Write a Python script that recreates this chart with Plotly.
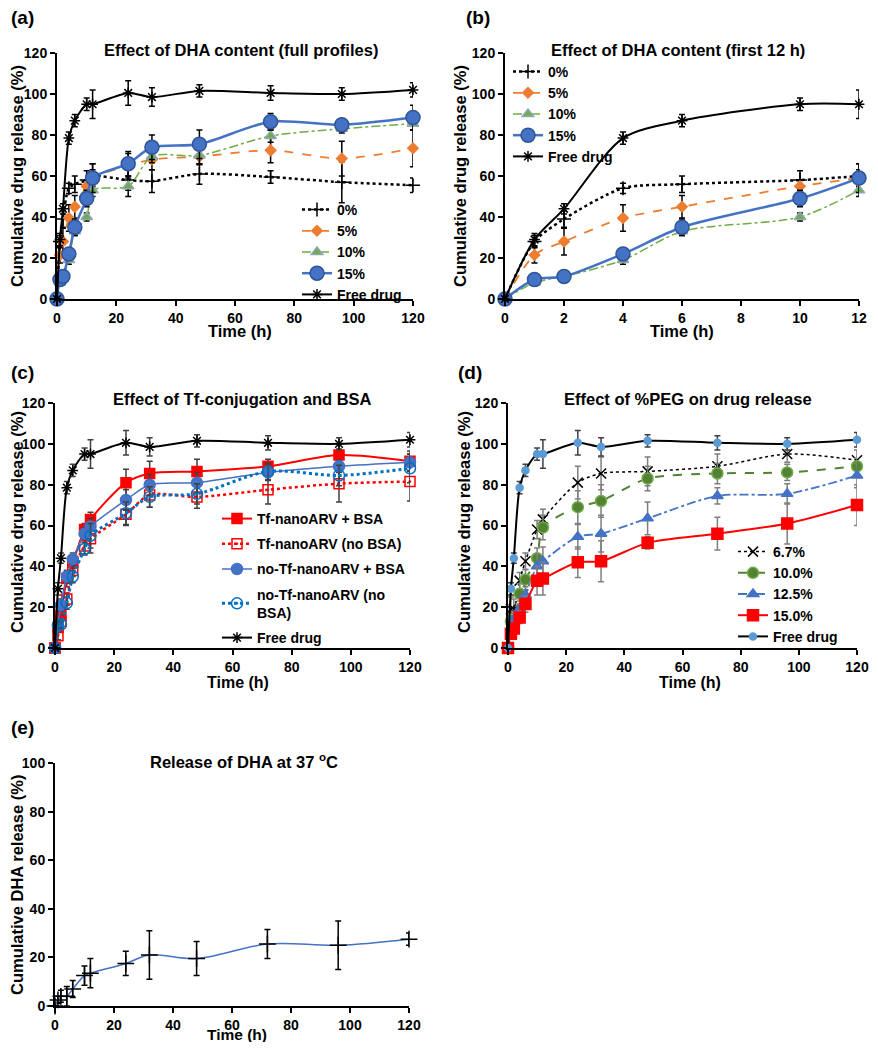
import plotly.graph_objects as go

# sampling times (h)
t = [0, 1, 2, 4, 6, 10, 12, 24, 32, 48, 72, 96, 120]
t12 = t[:7]

# (a)/(b) effect of DHA content
free = [0, 29, 44, 78.5, 87, 95, 95, 100.5, 98.5, 101.5, 100.5, 100, 102]
free_err = [0, 3, 2.5, 3, 3, 3, 7, 6, 4.5, 3, 3.5, 3, 3.5]
dha0 = [0, 28, 39, 54, 56, 58, 60, 58, 57.5, 61, 59.5, 57, 55.5]
dha0_err = [0, 3, 4, 2.5, 4, 4.5, 6, 5, 5.5, 5, 3, 10, 3.5]
dha5 = [0, 21.5, 28, 39.5, 45, 55, 59, 65, 68, 69.5, 72.5, 68.5, 73.5]
dha5_err = [0, 4, 6.5, 6.5, 5.5, 3, 4, 6, 5, 4, 6, 8.5, 9]
dha10 = [0, 8, 11, 19, 33, 40, 53, 55, 69.5, 70, 79.5, 83, 85.5]
dha10_err = [0, 1.5, 1.5, 2, 2, 2, 3, 5, 3, 4, 3, 2, 3]
dha15 = [0, 9.5, 11, 22, 35, 49, 59, 66, 74, 75.5, 86.5, 85, 88.5]
dha15_err = [0, 1.5, 1.5, 2, 4, 4, 7, 6, 6, 7, 4, 2, 6]

# (c) Tf-conjugation and BSA
tf_bsa = [0, 10, 16, 34, 42, 58, 63, 81, 85.5, 86.5, 89, 94.5, 91.5]
tf_bsa_err = [0, 2, 3, 4, 3, 3, 3.5, 6.5, 6, 6, 3.5, 3, 5]
tf_nobsa = [0, 6, 13, 24, 38, 50, 53.5, 65.5, 75, 74, 77.5, 80.5, 81.5]
tf_nobsa_err = [0, 2, 3, 3, 3, 4, 7, 5.5, 6, 5.5, 7, 9, 9.5]
notf_bsa = [0, 11, 21, 35, 43.5, 56, 59.5, 72.5, 80, 81, 86, 89, 91]
notf_bsa_err = [0, 2, 3, 3, 3, 3, 4, 5, 5, 5, 4, 3, 4]
notf_nobsa = [0, 11, 11.5, 22, 35, 48.5, 55, 66, 74, 75.5, 86.5, 84.5, 88]
notf_nobsa_err = [0, 2, 2, 3, 3, 3, 6, 5.5, 5, 5, 4, 5, 7]

# (d) %PEG
peg67 = [0, 19, 19, 33, 42.5, 58, 63, 81, 85.5, 86.5, 89, 95, 92]
peg67_err = [0, 6, 5, 4, 4, 4.5, 5, 8, 8, 7, 6, 4, 5]
peg10 = [0, 13, 14, 26.5, 33.5, 44, 59, 69, 72, 83, 85.5, 86, 89]
peg10_err = [0, 4, 4, 5, 5, 5, 6, 8, 8, 6, 5, 4, 4]
peg125 = [0, 10, 14, 19, 26, 40, 42.5, 54.5, 56, 63.5, 74.5, 75.5, 84.5]
peg125_err = [0, 3, 3, 4, 4, 6, 7, 6, 9, 8, 4, 5, 6]
peg15 = [0, 7, 9.5, 15, 21.5, 33, 34, 42, 42.5, 51.5, 56, 61, 70]
peg15_err = [0, 2, 2, 3, 4, 7, 8, 7.5, 10, 3, 8, 10, 10]

# (e) DHA release at 37 C
dha_rel = [0, 2.5, 4, 4, 7, 12.5, 13.5, 17.5, 21, 19.5, 25.5, 25, 27.5]
dha_rel_err = [0, 1.5, 2.5, 4, 3.5, 4, 6, 5, 10, 7, 6, 10, 2.5]

FONT = "Liberation Sans, Arial, sans-serif"
# the page body has an 8px margin, so the figure is made a bit smaller
OFF = 8
W, H = 878 - 2 * OFF, 1050 - 2 * OFF


def px_x(p):
    return (p - OFF) / W


def px_y(p):
    return 1 - (p - OFF) / H


def add(fig, x, y, err, name, ax, legend, color, dash, width, symbol, msize,
        mcolor=None, mline=None, ecolor="black", smooth=0.8):
    fig.add_trace(go.Scatter(
        x=x, y=y, name=name, mode="lines+markers",
        xaxis="x" + ax, yaxis="y" + ax, legend=legend, legendgroup=legend + name,
        line=dict(color=color, dash=dash, width=width, shape="spline", smoothing=smooth),
        marker=dict(symbol=symbol, size=msize, color=mcolor or color,
                    line=dict(color=mline or color, width=1.5)),
        error_y=dict(type="data", array=err, color=ecolor, thickness=1.5, width=3),
        cliponaxis=False,
    ))


fig = go.Figure()

# (a)
add(fig, t, dha0, dha0_err, "0%", "", "legend", "black", "dot", 2.5, "cross-thin-open", 10)
add(fig, t, dha5, dha5_err, "5%", "", "legend", "#ED7D31", "dash", 1.8, "diamond", 8)
add(fig, t, dha10, dha10_err, "10%", "", "legend", "#70AD47", "dashdot", 1.5, "triangle-up", 10, mline="#8FA7B5")
add(fig, t, dha15, dha15_err, "15%", "", "legend", "#4472C4", "solid", 2.5, "circle", 14, mline="#2F5597")
add(fig, t, free, free_err, "Free drug", "", "legend", "black", "solid", 2, "asterisk-open", 9)

# (b)
add(fig, t12, dha0[:7], dha0_err[:7], "0%", "2", "legend2", "black", "dot", 2.5, "cross-thin-open", 10)
add(fig, t12, dha5[:7], dha5_err[:7], "5%", "2", "legend2", "#ED7D31", "dash", 1.8, "diamond", 8)
add(fig, t12, dha10[:7], dha10_err[:7], "10%", "2", "legend2", "#70AD47", "dashdot", 1.5, "triangle-up", 10, mline="#8FA7B5")
add(fig, t12, dha15[:7], dha15_err[:7], "15%", "2", "legend2", "#4472C4", "solid", 2.5, "circle", 14, mline="#2F5597")
add(fig, t12, free[:7], free_err[:7], "Free drug", "2", "legend2", "black", "solid", 2, "asterisk-open", 9)

# (c)
add(fig, t, tf_bsa, tf_bsa_err, "Tf-nanoARV + BSA", "3", "legend3", "#FF0000", "solid", 2, "square", 10, ecolor="#404040")
add(fig, t, tf_nobsa, tf_nobsa_err, "Tf-nanoARV (no BSA)", "3", "legend3", "#FF0000", "dot", 2.5, "square-open-dot", 10, ecolor="#404040")
add(fig, t, notf_bsa, notf_bsa_err, "no-Tf-nanoARV + BSA", "3", "legend3", "#4472C4", "solid", 1.5, "circle", 11, ecolor="#404040")
add(fig, t, notf_nobsa, notf_nobsa_err, "no-Tf-nanoARV (no<br>BSA)", "3", "legend3", "#0070C0", "dot", 3, "circle-open-dot", 11, ecolor="#404040")
add(fig, t, free, free_err, "Free drug", "3", "legend3", "black", "solid", 2, "asterisk-open", 9, ecolor="#404040")

# (d)
add(fig, t, peg67, peg67_err, "6.7%", "4", "legend4", "black", "dot", 1.5, "x-thin-open", 10, ecolor="#7F7F7F")
add(fig, t, peg10, peg10_err, "10.0%", "4", "legend4", "#548235", "dash", 2, "circle", 11, mcolor="#548235", mline="#70AD47", ecolor="#7F7F7F")
add(fig, t, peg125, peg125_err, "12.5%", "4", "legend4", "#4472C4", "dashdot", 1.8, "triangle-up", 10, ecolor="#7F7F7F")
add(fig, t, peg15, peg15_err, "15.0%", "4", "legend4", "#FF0000", "solid", 2, "square", 11, ecolor="#7F7F7F")
add(fig, t, free, free_err, "Free drug", "4", "legend4", "black", "solid", 2, "circle", 7, mcolor="#5B9BD5", mline="#5B9BD5", ecolor="#404040")

# (e)
fig.add_trace(go.Scatter(
    x=t, y=dha_rel, mode="lines+markers", showlegend=False, xaxis="x5", yaxis="y5",
    line=dict(color="#4472C4", width=1.5, shape="spline", smoothing=1),
    marker=dict(symbol="cross-thin-open", size=12, color="black", line=dict(color="black", width=1.5)),
    error_y=dict(type="data", array=dha_rel_err, color="black", thickness=1.5, width=3),
    cliponaxis=False,
))

tick_font = dict(family=FONT, size=14, color="black", weight="bold")


def xax(x0, x1, anchor, rng, dtick):
    return dict(domain=[px_x(x0), px_x(x1)], anchor=anchor, range=rng, dtick=dtick,
                showline=True, linecolor="black", linewidth=2, ticks="outside",
                ticklen=5, tickwidth=2, tickcolor="black", showgrid=False,
                zeroline=False, tickfont=tick_font, ticklabeloverflow="allow")


def yax(y0, y1, anchor, rng):
    return dict(domain=[px_y(y1), px_y(y0)], anchor=anchor, range=rng, dtick=20,
                showline=True, linecolor="black", linewidth=2, ticks="outside",
                ticklen=5, tickwidth=2, tickcolor="black", showgrid=False,
                zeroline=False, tickfont=tick_font)


fig.update_layout(
    width=W, height=H, margin=dict(l=0, r=0, t=0, b=0, autoexpand=False),
    plot_bgcolor="white", paper_bgcolor="white",
    font=dict(family=FONT, color="black"),
    xaxis=xax(57, 413, "y", [0, 120], 20),
    yaxis=yax(53, 299, "x", [0, 120]),
    xaxis2=xax(505, 859, "y2", [0, 12], 2),
    yaxis2=yax(53, 299, "x2", [0, 120]),
    xaxis3=xax(55, 410, "y3", [0, 120], 20),
    yaxis3=yax(403, 648, "x3", [0, 120]),
    xaxis4=xax(508, 857, "y4", [0, 120], 20),
    yaxis4=yax(403, 648, "x4", [0, 120]),
    xaxis5=xax(55, 409, "y5", [0, 120], 20),
    yaxis5=yax(763, 1006, "x5", [0, 100]),
)

leg_font = dict(family=FONT, size=14, color="black", weight="bold")
for key, x0, y0, gap in [("legend", 297, 194, 0), ("legend2", 508, 56, 0),
                         ("legend3", 217, 503, 4), ("legend4", 733, 536, 0)]:
    fig.update_layout({key: dict(x=px_x(x0), y=px_y(y0), xanchor="left", yanchor="top",
                                 bgcolor="rgba(0,0,0,0)", font=leg_font,
                                 tracegroupgap=gap, itemwidth=30,
                                 traceorder="grouped")})


def label(txt, cx, cy, size, angle=0):
    return dict(text=txt, x=px_x(cx), y=px_y(cy), xref="paper", yref="paper",
                xanchor="center", yanchor="middle", textangle=angle, showarrow=False,
                font=dict(family=FONT, size=size, weight="bold"))


ann = []
# panel titles
for txt, cx, cy in [("Effect of DHA content (full profiles)", 241, 50),
                    ("Effect of DHA content (first 12 h)", 678, 50),
                    ("Effect of Tf-conjugation and BSA", 242, 399),
                    ("Effect of %PEG on drug release", 688, 399),
                    ("Release of DHA at 37 <sup>o</sup>C", 244, 761)]:
    ann.append(label(txt, cx, cy, 16.5))
# panel letters
for txt, cx, cy in [("(a)", 22, 17), ("(b)", 478, 17), ("(c)", 22, 372),
                    ("(d)", 470, 372), ("(e)", 22, 727)]:
    ann.append(label(txt, cx, cy, 19))
# x titles
for cx, cy, s in [(240, 331, 16.5), (682, 331, 16.5), (238, 682, 16),
                  (690, 682, 16), (237, 1034, 15.5)]:
    ann.append(label("Time (h)", cx, cy, s))
# y titles
for txt, cx, cy in [("Cumulative drug release (%)", 17, 176),
                    ("Cumulative drug release (%)", 460, 176),
                    ("Cumulative drug release (%)", 17, 522),
                    ("Cumulative drug release (%)", 464, 522),
                    ("Cumulative DHA release (%)", 17, 885)]:
    ann.append(label(txt, cx, cy, 16.5, -90))
fig.update_layout(annotations=ann)

fig.write_html("out.html")
